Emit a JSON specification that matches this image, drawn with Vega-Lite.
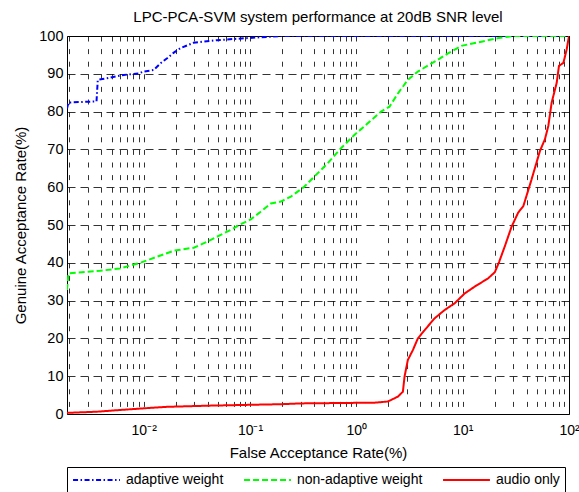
{
  "$schema": "https://vega.github.io/schema/vega-lite/v6.json",
  "autosize": "none",
  "width": 502,
  "height": 378,
  "padding": {"left": 67, "top": 36, "right": 10, "bottom": 78},
  "background": "white",
  "title": {
    "text": "LPC-PCA-SVM system performance at 20dB SNR level",
    "font": "Liberation Sans",
    "fontSize": 15,
    "fontWeight": "normal",
    "color": "black",
    "anchor": "middle",
    "offset": 3
  },
  "config": {
    "view": {"stroke": "black", "strokeWidth": 1},
    "font": "Liberation Sans"
  },
  "data": {
    "values": [
      {"s": "adaptive weight", "x": 0.0019, "y": 80.8},
      {"s": "adaptive weight", "x": 0.00196, "y": 82.4},
      {"s": "adaptive weight", "x": 0.0036, "y": 82.7},
      {"s": "adaptive weight", "x": 0.0037, "y": 88.4},
      {"s": "adaptive weight", "x": 0.0045, "y": 88.8},
      {"s": "adaptive weight", "x": 0.0065, "y": 89.7},
      {"s": "adaptive weight", "x": 0.009, "y": 90.1},
      {"s": "adaptive weight", "x": 0.01, "y": 90.6},
      {"s": "adaptive weight", "x": 0.0124, "y": 91.0},
      {"s": "adaptive weight", "x": 0.0144, "y": 92.8},
      {"s": "adaptive weight", "x": 0.0166, "y": 94.1},
      {"s": "adaptive weight", "x": 0.0192, "y": 95.6},
      {"s": "adaptive weight", "x": 0.0222, "y": 96.8},
      {"s": "adaptive weight", "x": 0.0294, "y": 98.2},
      {"s": "adaptive weight", "x": 0.049, "y": 98.9},
      {"s": "adaptive weight", "x": 0.1, "y": 99.5},
      {"s": "adaptive weight", "x": 0.2, "y": 100},
      {"s": "adaptive weight", "x": 100, "y": 100},
      {"s": "non-adaptive weight", "x": 0.0019, "y": 32.8},
      {"s": "non-adaptive weight", "x": 0.00196, "y": 37.2},
      {"s": "non-adaptive weight", "x": 0.0039, "y": 37.9},
      {"s": "non-adaptive weight", "x": 0.006, "y": 38.5},
      {"s": "non-adaptive weight", "x": 0.0095, "y": 40.1},
      {"s": "non-adaptive weight", "x": 0.0192, "y": 43.2},
      {"s": "non-adaptive weight", "x": 0.0296, "y": 44.0},
      {"s": "non-adaptive weight", "x": 0.0396, "y": 45.6},
      {"s": "non-adaptive weight", "x": 0.053, "y": 47.4},
      {"s": "non-adaptive weight", "x": 0.0658, "y": 48.7},
      {"s": "non-adaptive weight", "x": 0.0817, "y": 50.2},
      {"s": "non-adaptive weight", "x": 0.1016, "y": 51.5},
      {"s": "non-adaptive weight", "x": 0.126, "y": 53.5},
      {"s": "non-adaptive weight", "x": 0.157, "y": 55.7},
      {"s": "non-adaptive weight", "x": 0.195, "y": 56.2},
      {"s": "non-adaptive weight", "x": 0.242, "y": 57.5},
      {"s": "non-adaptive weight", "x": 0.323, "y": 60.1},
      {"s": "non-adaptive weight", "x": 0.402, "y": 62.8},
      {"s": "non-adaptive weight", "x": 0.537, "y": 66.3},
      {"s": "non-adaptive weight", "x": 0.717, "y": 70.3},
      {"s": "non-adaptive weight", "x": 0.957, "y": 73.8},
      {"s": "non-adaptive weight", "x": 1.28, "y": 76.9},
      {"s": "non-adaptive weight", "x": 1.71, "y": 80.0},
      {"s": "non-adaptive weight", "x": 2.05, "y": 81.3},
      {"s": "non-adaptive weight", "x": 2.46, "y": 84.8},
      {"s": "non-adaptive weight", "x": 3.05, "y": 88.4},
      {"s": "non-adaptive weight", "x": 3.79, "y": 90.6},
      {"s": "non-adaptive weight", "x": 5.44, "y": 93.2},
      {"s": "non-adaptive weight", "x": 7.28, "y": 95.4},
      {"s": "non-adaptive weight", "x": 9.72, "y": 97.4},
      {"s": "non-adaptive weight", "x": 15.0, "y": 98.5},
      {"s": "non-adaptive weight", "x": 22.0, "y": 99.5},
      {"s": "non-adaptive weight", "x": 30.0, "y": 100},
      {"s": "non-adaptive weight", "x": 100, "y": 100},
      {"s": "audio only", "x": 0.0019, "y": 0.3},
      {"s": "audio only", "x": 0.0036, "y": 0.6},
      {"s": "audio only", "x": 0.0056, "y": 1.0},
      {"s": "audio only", "x": 0.01, "y": 1.5},
      {"s": "audio only", "x": 0.0166, "y": 1.9},
      {"s": "audio only", "x": 0.04, "y": 2.2},
      {"s": "audio only", "x": 0.2, "y": 2.6},
      {"s": "audio only", "x": 0.3, "y": 2.8},
      {"s": "audio only", "x": 1.48, "y": 3.0},
      {"s": "audio only", "x": 1.98, "y": 3.3},
      {"s": "audio only", "x": 2.46, "y": 4.6},
      {"s": "audio only", "x": 2.74, "y": 5.9},
      {"s": "audio only", "x": 2.84, "y": 9.9},
      {"s": "audio only", "x": 3.05, "y": 14.3},
      {"s": "audio only", "x": 3.4, "y": 16.9},
      {"s": "audio only", "x": 3.79, "y": 20.0},
      {"s": "audio only", "x": 4.39, "y": 22.2},
      {"s": "audio only", "x": 5.44, "y": 25.3},
      {"s": "audio only", "x": 6.76, "y": 27.5},
      {"s": "audio only", "x": 8.41, "y": 29.3},
      {"s": "audio only", "x": 10.45, "y": 31.9},
      {"s": "audio only", "x": 12.98, "y": 33.7},
      {"s": "audio only", "x": 17.38, "y": 35.9},
      {"s": "audio only", "x": 20.05, "y": 37.5},
      {"s": "audio only", "x": 22.0, "y": 40.2},
      {"s": "audio only", "x": 25.0, "y": 44.5},
      {"s": "audio only", "x": 28.8, "y": 49.5},
      {"s": "audio only", "x": 33.3, "y": 53.3},
      {"s": "audio only", "x": 37.2, "y": 55.0},
      {"s": "audio only", "x": 44.5, "y": 62.1},
      {"s": "audio only", "x": 53.3, "y": 69.6},
      {"s": "audio only", "x": 59.4, "y": 72.7},
      {"s": "audio only", "x": 63.9, "y": 76.2},
      {"s": "audio only", "x": 68.7, "y": 82.4},
      {"s": "audio only", "x": 76.6, "y": 87.6},
      {"s": "audio only", "x": 80.5, "y": 92.1},
      {"s": "audio only", "x": 88.6, "y": 92.9},
      {"s": "audio only", "x": 95.2, "y": 96.5},
      {"s": "audio only", "x": 100, "y": 100}
    ]
  },
  "mark": {"type": "line", "strokeWidth": 2, "clip": true},
  "encoding": {
    "x": {
      "field": "x",
      "type": "quantitative",
      "scale": {"type": "log", "domain": [0.0019, 100], "nice": false},
      "axis": {
        "title": "False Acceptance Rate(%)",
        "titleFont": "Liberation Sans",
        "titleFontSize": 15,
        "titleFontWeight": "normal",
        "titleColor": "black",
        "titlePadding": 8,
        "values": [0.002, 0.003, 0.004, 0.005, 0.006, 0.007, 0.008, 0.009, 0.01, 0.02, 0.03, 0.04, 0.05, 0.06, 0.07, 0.08, 0.09, 0.1, 0.2, 0.3, 0.4, 0.5, 0.6, 0.7, 0.8, 0.9, 1, 2, 3, 4, 5, 6, 7, 8, 9, 10, 20, 30, 40, 50, 60, 70, 80, 90, 100],
        "labelExpr": "datum.value == 0.01 ? '10⁻²' : datum.value == 0.1 ? '10⁻¹' : datum.value == 1 ? '10⁰' : datum.value == 10 ? '10¹' : datum.value == 100 ? '10²' : ''",
        "labelOverlap": false,
        "labelFlush": false,
        "labelFont": "Liberation Sans",
        "labelFontSize": 14,
        "labelColor": "black",
        "labelPadding": 9,
        "ticks": false,
        "domain": false,
        "grid": true,
        "gridColor": "#000000",
        "gridOpacity": 0.8,
        "gridDash": [5, 7.6],
        "gridWidth": 1
      }
    },
    "y": {
      "field": "y",
      "type": "quantitative",
      "scale": {"domain": [0, 100], "nice": false},
      "axis": {
        "title": "Genuine Acceptance Rate(%)",
        "titleFont": "Liberation Sans",
        "titleFontSize": 15,
        "titleFontWeight": "normal",
        "titleColor": "black",
        "titlePadding": 10,
        "values": [0, 10, 20, 30, 40, 50, 60, 70, 80, 90, 100],
        "labelFont": "Liberation Sans",
        "labelFontSize": 14.5,
        "labelColor": "black",
        "labelPadding": 4,
        "ticks": false,
        "domain": false,
        "grid": true,
        "gridColor": "#000000",
        "gridOpacity": 0.8,
        "gridDash": [8, 5],
        "gridWidth": 1
      }
    },
    "color": {
      "field": "s",
      "type": "nominal",
      "sort": ["adaptive weight", "non-adaptive weight", "audio only"],
      "scale": {
        "domain": ["adaptive weight", "non-adaptive weight", "audio only"],
        "range": ["#0000ff", "#00ff00", "#ff0000"]
      },
      "legend": {
        "title": null,
        "orient": "none",
        "legendX": 0,
        "legendY": 431,
        "direction": "horizontal",
        "strokeColor": "black",
        "fillColor": "white",
        "padding": 5,
        "clipHeight": 16,
        "symbolType": "stroke",
        "symbolSize": 2200,
        "symbolStrokeWidth": 2,
        "labelFont": "Liberation Sans",
        "labelFontSize": 14,
        "labelColor": "black",
        "labelOffset": 5,
        "columnPadding": 19
      }
    },
    "strokeDash": {
      "field": "s",
      "type": "nominal",
      "sort": ["adaptive weight", "non-adaptive weight", "audio only"],
      "scale": {
        "domain": ["adaptive weight", "non-adaptive weight", "audio only"],
        "range": [[5, 2.5, 1.5, 2.5], [6, 3], [1, 0]]
      },
      "legend": {
        "title": null,
        "orient": "none",
        "legendX": 0,
        "legendY": 431,
        "direction": "horizontal",
        "strokeColor": "black",
        "fillColor": "white",
        "padding": 5,
        "clipHeight": 16,
        "symbolType": "stroke",
        "symbolSize": 2200,
        "symbolStrokeWidth": 2,
        "labelFont": "Liberation Sans",
        "labelFontSize": 14,
        "labelColor": "black",
        "labelOffset": 5,
        "columnPadding": 19
      }
    }
  }
}
